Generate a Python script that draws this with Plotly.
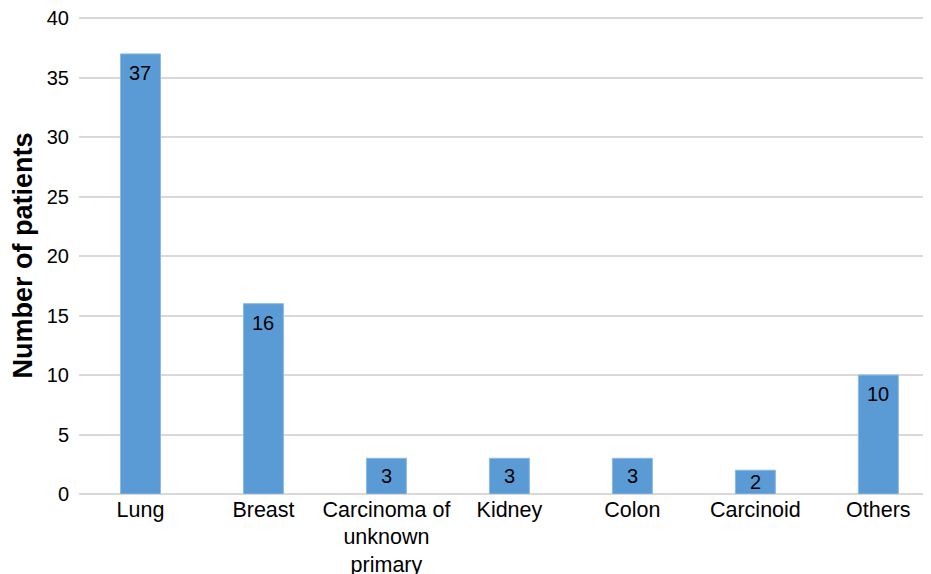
import plotly.graph_objects as go

categories = ["Lung", "Breast", "Carcinoma of<br>unknown<br>primary", "Kidney", "Colon", "Carcinoid", "Others"]
patients = [37, 16, 3, 3, 3, 2, 10]
y_ticks = [0, 5, 10, 15, 20, 25, 30, 35, 40]

Y_MAX = 40.1
PLOT_H = 566 - 9 - 80
PX_PER_UNIT = PLOT_H / Y_MAX

fig = go.Figure(go.Bar(
    x=categories,
    y=patients,
    marker=dict(color="#5B9BD5", line=dict(color="#8DB9E3", width=1)),
))

for cat, val in zip(categories, patients):
    shift = min(19, val * PX_PER_UNIT / 2)
    fig.add_annotation(
        x=cat, y=val, text=str(val), showarrow=False,
        yanchor="middle", yshift=-shift,
        font=dict(family="Liberation Sans, Arial", size=20, color="black"),
    )

fig.update_layout(
    width=923, height=566,
    margin=dict(l=71, r=1, t=9, b=80, autoexpand=False),
    paper_bgcolor="white", plot_bgcolor="white",
    bargap=0.675,
    showlegend=False,
    font=dict(family="Liberation Sans, Arial", size=20, color="black"),
)
fig.update_xaxes(
    range=[-0.5, 6.42],
    tickfont=dict(size=21.5), showgrid=False, showline=False, ticks="", automargin=False,
)
fig.update_yaxes(
    range=[0, Y_MAX], tickvals=y_ticks, showgrid=True, gridcolor="#D9D9D9", gridwidth=1.5,
    zeroline=True, zerolinecolor="#D9D9D9", zerolinewidth=1.5,
    showline=False, ticks="outside", ticklen=5, tickcolor="rgba(0,0,0,0)", automargin=False,
    ticklabeloverflow="allow",
    tickfont=dict(size=20),
    title=dict(text="<b>Number of patients</b>", font=dict(size=27), standoff=15),
)
fig.write_html("out.html")
